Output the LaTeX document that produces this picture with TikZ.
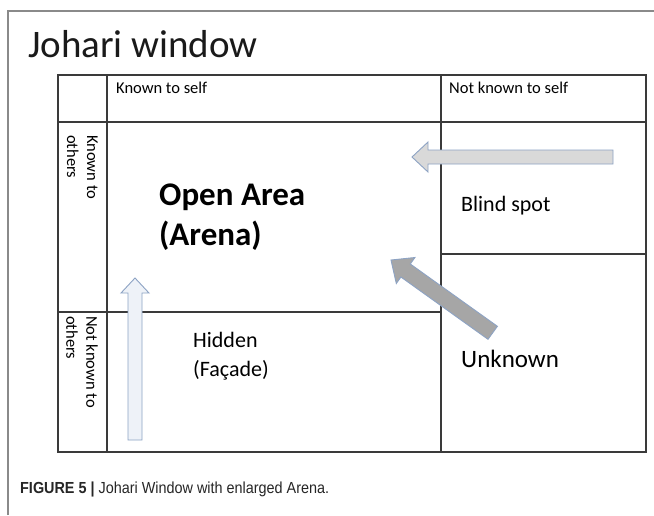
\documentclass[tikz,border=0pt]{standalone}
\usepackage{fontspec}
\setmainfont{Carlito}
\newfontfamily\capfont[FakeStretch=0.9]{Liberation Sans}
\definecolor{gridline}{HTML}{3A3A3A}
\definecolor{frameline}{HTML}{8A8A8A}
\definecolor{arrowedge}{HTML}{8DA3C4}
\definecolor{fillA}{HTML}{D9D9D9}
\definecolor{fillB}{HTML}{A6A6A6}
\definecolor{fillC}{HTML}{EEF2F8}
\definecolor{titlecol}{HTML}{1A1A1A}
\begin{document}
\begin{tikzpicture}[x=1pt,y=-1pt,
  grid/.style={draw=gridline,line width=1.1pt},
  lbl/.style={inner sep=0pt,anchor=base west,text=black},
  blockarrow/.style={draw=arrowedge,line width=0.9pt,line join=miter}]
\useasboundingbox (0,0) rectangle (654,515);
\fill[white] (0,0) rectangle (654,515);
% outer frame
\draw[frameline,line width=1.2pt] (8,515) -- (8,11) -- (654,11);
% table
\coordinate (tl) at (58,75);
\coordinate (br) at (646,452);
\draw[grid] (tl) rectangle (br);
\draw[grid] (107,75) -- (107,452);
\draw[grid] (441,75) -- (441,452);
\draw[grid] (58,122) -- (646,122);
\draw[grid] (58,312) -- (441,312);
\draw[grid] (441,254) -- (646,254);
% arrows
\draw[blockarrow,fill=fillA] (613,150) -- (428,150) -- (428,142) -- (412,157) -- (428,172) -- (428,164) -- (613,164) -- cycle;
\draw[blockarrow,fill=fillC] (128,440) -- (128,293) -- (121,293) -- (135,278) -- (149,293) -- (142,293) -- (142,440) -- cycle;
\draw[blockarrow,fill=fillB] (391,260) -- (396.3,283.5) -- (400.9,277.0) -- (488.0,339.3) -- (497.4,326.3) -- (410.3,264.0) -- (414.9,257.5) -- cycle;
% texts
\node[lbl,text=titlecol,font=\fontsize{39}{44}\selectfont] (title) at (28,57) {Johari window};
\node[lbl,font=\fontsize{16.5}{18}\selectfont] (kself) at (116,93) {Known to self};
\node[lbl,font=\fontsize{16.5}{18}\selectfont] (nkself) at (449,93) {Not known to self};
\node[inner sep=0pt,anchor=north west,rotate=-90,align=left,font=\fontsize{16.5}{20}\selectfont] (kothers) at (98,135) {Known to\\others};
\node[inner sep=0pt,anchor=north west,rotate=-90,align=left,font=\fontsize{16.5}{20}\selectfont] (nkothers) at (98,316) {Not known to\\others};
\node[lbl,font=\bfseries\fontsize{33}{33}\selectfont] (open) at (159,205) {Open Area};
\node[lbl,font=\bfseries\fontsize{33}{33}\selectfont] (arena) at (159,245) {(Arena)};
\node[lbl,font=\fontsize{22}{24}\selectfont] (blind) at (461,211) {Blind spot};
\node[lbl,font=\fontsize{22}{24}\selectfont] (hidden) at (193,347) {Hidden};
\node[lbl,font=\fontsize{22}{24}\selectfont] (facade) at (193,376) {(Façade)};
\node[lbl,font=\fontsize{25}{28}\selectfont] (unknown) at (461,367) {Unknown};
\node[lbl,font=\capfont\fontsize{16}{18}\selectfont,text=black!85] (cap) at (20,493) {\textbf{FIGURE 5 |} Johari Window with enlarged Arena.};
\end{tikzpicture}
\end{document}
